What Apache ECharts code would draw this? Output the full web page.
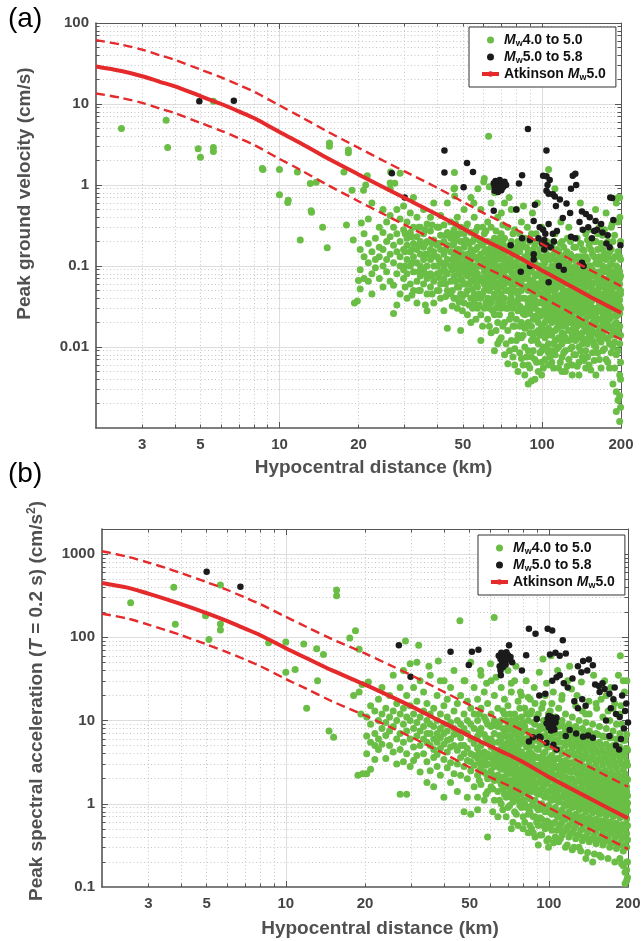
<!DOCTYPE html>
<html><head><meta charset="utf-8">
<script src="https://cdn.jsdelivr.net/npm/echarts@6/dist/echarts.min.js"></script>
<style>html,body{margin:0;padding:0;background:#fff}#c{width:643px;height:941px}</style>
</head><body><div id="c"></div><script>
const FONT = "'Liberation Sans', Arial, Helvetica, sans-serif";

// ---- tick values / labels ----
const distLabels = [3, 5, 10, 20, 50, 100, 200];
const distMajor = [10, 100];
const distMinor = [3, 4, 5, 6, 7, 8, 9, 20, 30, 40, 50, 60, 70, 80, 90];
const pgvLabels = [0.01, 0.1, 1, 10, 100];
const pgvMajor = [0.01, 0.1, 1, 10];
const pgvMinor = [0.002,0.003,0.004,0.005,0.006,0.007,0.008,0.009,0.02,0.03,0.04,0.05,0.06,0.07,0.08,0.09,0.2,0.3,0.4,0.5,0.6,0.7,0.8,0.9,2,3,4,5,6,7,8,9,20,30,40,50,60,70,80,90];
const psaLabels = [0.1, 1, 10, 100, 1000];
const psaMajor = [1, 10, 100, 1000];
const psaMinor = [0.2,0.3,0.4,0.5,0.6,0.7,0.8,0.9,2,3,4,5,6,7,8,9,20,30,40,50,60,70,80,90,200,300,400,500,600,700,800,900,2000];

// ---- series names ----
const nameSmall = 'Mw4.0 to 5.0';
const nameLarge = 'Mw5.0 to 5.8';
const nameModel = 'Atkinson Mw5.0';

// ---- Atkinson model curves ----
const curveDist = [2,2.5,3,3.5,4,5,6,7,8,10,12,15,20,25,30,40,50,60,70,80,100,120,150,200];
const pgvMedian = [29,25.5,22,18.8,16.5,12.5,10,8.1,6.7,4.5,3.3,2.2,1.35,0.93,0.69,0.43,0.29,0.21,0.165,0.132,0.088,0.064,0.043,0.0265];
const pgvUpper = [61.5,54,47,40,35,26.6,21.3,17.2,14.2,9.6,7,4.7,2.88,1.98,1.47,0.92,0.62,0.45,0.35,0.28,0.187,0.136,0.092,0.0565];
const pgvLower = [13.5,11.9,10.3,8.8,7.7,5.85,4.67,3.78,3.13,2.1,1.54,1.03,0.63,0.435,0.322,0.2,0.135,0.098,0.077,0.062,0.041,0.03,0.02,0.0124];
const psaMedian = [450,395,335,288,250,195,156,127,106,74,56,40,27,19.5,14.8,9.3,6.5,4.9,3.9,3.15,2.1,1.55,1.07,0.67];
const psaUpper = [1080,930,790,680,590,460,370,300,250,176,133,95,64,46,35,22,15.4,11.6,9.2,7.5,5,3.7,2.55,1.6];
const psaLower = [192,168,142,122,106,82,66,54,45,31.5,24,17,11.5,8.3,6.3,4,2.75,2.08,1.66,1.34,0.9,0.66,0.46,0.285];

// ---- (a) PGV observations ----
const pgvGreenPts = [[2.5,5.0],[3.7,6.3],[3.75,2.9],[4.9,2.8],[5.0,2.2],[5.6,2.9],[5.6,2.6],[5.6,10.8],[8.6,1.6],[8.65,1.55],[10,1.55],[10,0.76],[10.8,0.65],[10.75,0.61],[11.7,1.45],[12,0.21],[13.1,1.04],[13.8,1.08],[13.2,0.48],[13.25,0.46],[14.6,0.30],[15.2,0.168],[15.5,3.3],[15.5,3.0],[17.6,1.45],[18.0,0.32],[18.3,2.7],[18.3,2.5],[18.9,0.86],[19.1,0.21],[19.3,0.035],[19.8,0.037],[20,0.066],[20.5,0.34],[20.9,0.86],[21.3,1.0],[21.6,1.3],[21.8,0.065],[26.5,1.45],[27.5,1.05],[46.4,1.43],[46.5,0.92],[46.5,0.73],[28.8,1.4],[26.4,1.06],[57,0.9],[60,1.1],[63,0.95],[66,0.8],[75,0.7],[80,0.5],[85,0.55],[92,0.45],[106,1.55],[112,0.9],[140,0.6],[160,0.5],[195,0.7],[62.6,4.0],[55,0.6],[70,0.45],[96,0.6],[88,0.3],[95,0.25],[118,0.35],[125,0.22],[150,0.28],[170,0.24],[185,0.33],[198,0.4]];
const pgvGreenCols = [
[20.3,[0.16,0.09,0.052]],[21,[0.13,0.25,0.07]],[21.8,[0.19,0.11,0.38]],[22.5,[0.08,0.15,0.6,0.045]],
[23.2,[0.22,0.12,0.095]],[24,[0.17,0.3,0.07,0.13]],[24.8,[0.26,0.1,0.5,0.055,0.16]],[25.6,[0.2,0.085,0.35,0.12]],
[26.4,[0.14,0.42,0.065,0.23,0.9]],[27.2,[0.3,0.11,0.18,0.058,0.026]],[28,[0.15,0.5,0.08,0.25,0.033]],[28.8,[0.2,0.1,0.38,0.13,0.045]],
[29.7,[0.28,0.07,0.16,0.55,0.09]],[30.6,[0.12,0.22,0.04,0.35,0.08,0.18]],[31.5,[0.1,0.26,0.06,0.15,0.45]],[32.4,[0.19,0.085,0.3,0.05,0.13,0.7]],
[33.4,[0.11,0.23,0.065,0.16,0.4,0.035]],[34.4,[0.14,0.075,0.3,0.2,0.05,0.1]],[35.4,[0.25,0.12,0.06,0.17,0.5,0.09]],[36.5,[0.1,0.2,0.045,0.14,0.33,0.07,0.028]],
[37.6,[0.16,0.08,0.27,0.12,0.055,0.4]],[38.7,[0.21,0.1,0.065,0.15,0.035,0.6]],[39.9,[0.13,0.3,0.08,0.18,0.05,0.1]],[41.1,[0.24,0.11,0.06,0.16,0.42,0.04,0.085]],
[42.3,[0.14,0.07,0.2,0.095,0.32,0.028]],[43.6,[0.18,0.12,0.05,0.26,0.08,0.6,0.017]],[44.9,[0.1,0.15,0.065,0.35,0.22,0.045]],[46.2,[0.13,0.075,0.19,0.04,0.28,0.11,0.9]],
[47.6,[0.16,0.09,0.055,0.24,0.03,0.4,0.12]],[49,[0.2,0.07,0.13,0.045,0.1,0.3,0.016]],[50.5,[0.11,0.17,0.06,0.25,0.035,0.085,0.5]],[52,[0.14,0.075,0.2,0.05,0.1,0.33,0.025]],
[53.6,[0.09,0.16,0.04,0.12,0.065,0.26,0.7,0.02]],[55.2,[0.13,0.07,0.22,0.045,0.1,0.035,0.4]],[56.8,[0.08,0.17,0.055,0.12,0.03,0.3,0.065]],[58.5,[0.1,0.2,0.04,0.14,0.07,0.025,0.5,0.012]],
[60.3,[0.15,0.085,0.05,0.25,0.11,0.03,0.06,1.2]],[62.1,[0.07,0.13,0.04,0.2,0.09,0.022,0.35]],[64,[0.11,0.055,0.17,0.035,0.08,0.3,0.015,0.6]],[65.9,[0.09,0.045,0.14,0.025,0.065,0.22,0.12,0.009]],
[67.8,[0.06,0.12,0.035,0.19,0.08,0.02,0.4,0.05,0.011]],[69.9,[0.1,0.045,0.16,0.03,0.07,0.013,0.25,0.055]],[72,[0.075,0.14,0.04,0.22,0.02,0.1,0.06,0.008,0.6]],[74.1,[0.05,0.11,0.03,0.17,0.07,0.016,0.09,0.3,0.0062]],
[76.4,[0.085,0.04,0.13,0.025,0.06,0.2,0.012,0.045,0.5]],[78.7,[0.065,0.1,0.035,0.15,0.018,0.05,0.08,0.006,0.28,0.0095]],[81,[0.045,0.12,0.028,0.075,0.2,0.014,0.09,0.038,0.005]],[83.5,[0.06,0.03,0.1,0.17,0.02,0.05,0.013,0.08,0.35,0.0072]],
[86,[0.04,0.085,0.025,0.13,0.055,0.017,0.07,0.01,0.22,0.0045]],[88.6,[0.07,0.035,0.11,0.02,0.05,0.15,0.028,0.009,0.09,0.0035,0.006]],[91.2,[0.05,0.09,0.03,0.13,0.018,0.065,0.04,0.012,0.25,0.0038,0.0075]],[94,[0.038,0.075,0.024,0.11,0.055,0.015,0.03,0.007,0.18,0.004]],
[96.8,[0.06,0.028,0.1,0.045,0.016,0.08,0.02,0.035,0.011,0.14,0.005]],[99.7,[0.045,0.085,0.025,0.065,0.13,0.018,0.035,0.009,0.055,0.3,0.0045,0.0065]],[102.7,[0.032,0.07,0.02,0.05,0.11,0.013,0.04,0.026,0.085,0.007,0.16]],[105.8,[0.055,0.028,0.09,0.017,0.042,0.065,0.011,0.022,0.13,0.035,0.006,0.0085]],
[109,[0.04,0.075,0.02,0.03,0.1,0.014,0.055,0.009,0.025,0.18,0.0065]],[112.3,[0.05,0.024,0.085,0.035,0.016,0.065,0.012,0.045,0.12,0.008,0.028,0.25]],[115.7,[0.03,0.06,0.019,0.042,0.095,0.013,0.075,0.022,0.035,0.01,0.15,0.0055]],[119.2,[0.045,0.022,0.07,0.032,0.015,0.055,0.11,0.011,0.026,0.085,0.0075,0.2,0.005]],
[122.8,[0.036,0.06,0.018,0.028,0.09,0.013,0.048,0.024,0.075,0.009,0.14,0.005]],[126.5,[0.05,0.026,0.08,0.04,0.016,0.065,0.012,0.032,0.11,0.02,0.007,0.3]],[130.3,[0.03,0.055,0.02,0.042,0.085,0.014,0.07,0.025,0.01,0.13,0.036,0.006,0.0045]],[134.2,[0.045,0.022,0.065,0.033,0.1,0.016,0.05,0.012,0.028,0.08,0.008,0.17]],
[138.3,[0.038,0.06,0.019,0.028,0.09,0.013,0.045,0.072,0.024,0.01,0.12,0.0045,0.0065]],[142.5,[0.05,0.026,0.075,0.035,0.015,0.06,0.11,0.02,0.042,0.0075,0.16,0.011]],[146.8,[0.032,0.055,0.022,0.085,0.042,0.016,0.068,0.012,0.027,0.13,0.009,0.25,0.0055]],[151.2,[0.045,0.028,0.07,0.019,0.036,0.1,0.014,0.055,0.024,0.08,0.006,0.18]],
[155.8,[0.038,0.06,0.024,0.09,0.016,0.048,0.03,0.012,0.075,0.14,0.0085,0.02]],[160.5,[0.05,0.03,0.075,0.02,0.04,0.11,0.015,0.062,0.026,0.01,0.2,0.0045]],[165.4,[0.035,0.055,0.022,0.085,0.045,0.017,0.068,0.028,0.012,0.13,0.038,0.3,0.007]],[170.4,[0.045,0.026,0.07,0.032,0.1,0.019,0.055,0.014,0.04,0.16,0.009,0.022]],
[175.5,[0.03,0.06,0.042,0.02,0.085,0.026,0.05,0.013,0.12,0.035,0.007,0.45]],[180.8,[0.05,0.028,0.075,0.038,0.018,0.062,0.1,0.022,0.011,0.15,0.044,0.0055]],[186.3,[0.034,0.055,0.024,0.085,0.045,0.016,0.07,0.03,0.12,0.01,0.2,0.0035]],[191.9,[0.045,0.028,0.065,0.036,0.02,0.1,0.055,0.014,0.024,0.0028,0.0016,0.6,0.008]],
[197.7,[0.038,0.06,0.026,0.085,0.045,0.018,0.032,0.13,0.011,0.07,0.0025,0.0012,0.7,0.0045]]
];
const pgvGreenCols2 = [
[30.1,[0.15,0.055,0.25,0.1]],[31.95,[0.11,0.23,0.044,0.16]],
[33.9,[0.18,0.085,0.05,0.3]],[35.95,[0.19,0.08,0.033,0.14,0.28]],
[38.15,[0.19,0.045,0.13,0.075,0.32]],[40.5,[0.19,0.072,0.12,0.3,0.05]],
[42.95,[0.16,0.085,0.24,0.06,0.11,0.042]],[45.55,[0.18,0.09,0.05,0.12,0.25,0.032]],[46.9,[0.14,0.065,0.21,0.1,0.04,0.33]],
[48.3,[0.11,0.25,0.08,0.055,0.16,0.036]],[49.75,[0.14,0.09,0.042,0.2,0.065,0.028]],[51.25,[0.13,0.08,0.21,0.045,0.3,0.06]],[52.8,[0.11,0.19,0.06,0.033,0.14,0.085]],
[54.4,[0.2,0.1,0.052,0.15,0.03,0.08]],[56,[0.1,0.16,0.06,0.27,0.04,0.085,0.022]],[57.65,[0.13,0.065,0.21,0.045,0.1,0.033]],[59.4,[0.12,0.07,0.18,0.045,0.3,0.018]],
[61.2,[0.1,0.16,0.055,0.035,0.27,0.075]],[63.05,[0.15,0.09,0.05,0.12,0.03,0.065,0.018]],[64.95,[0.07,0.2,0.1,0.04,0.13,0.028]],[66.85,[0.1,0.16,0.055,0.03,0.075,0.27,0.016]],
[68.85,[0.085,0.14,0.04,0.22,0.06,0.025,0.012]],[70.95,[0.12,0.06,0.19,0.035,0.085,0.018,0.32]],[73.05,[0.09,0.05,0.16,0.03,0.12,0.065,0.011]],[75.25,[0.065,0.12,0.035,0.18,0.05,0.022,0.095,0.009]],
[77.55,[0.11,0.052,0.16,0.03,0.075,0.018,0.25,0.0075]],[79.85,[0.08,0.035,0.14,0.06,0.022,0.1,0.012,0.17]],[82.25,[0.1,0.05,0.15,0.032,0.065,0.018,0.25,0.0085]],[84.75,[0.075,0.12,0.04,0.2,0.026,0.095,0.014,0.006]],
[87.3,[0.1,0.055,0.17,0.03,0.075,0.018,0.13,0.0075]],[89.9,[0.06,0.12,0.04,0.2,0.026,0.085,0.015,0.0055]],[92.6,[0.1,0.045,0.16,0.065,0.022,0.035,0.013,0.009]],[95.4,[0.08,0.13,0.05,0.035,0.2,0.022,0.012,0.0065]],
[98.25,[0.1,0.036,0.16,0.055,0.075,0.024,0.014,0.0085]],[101.2,[0.06,0.12,0.042,0.19,0.028,0.095,0.016,0.01,0.0055]],[104.25,[0.08,0.045,0.14,0.034,0.06,0.022,0.2,0.0095,0.014]],[107.4,[0.065,0.12,0.036,0.05,0.17,0.026,0.08,0.016,0.0075]],
[110.65,[0.09,0.04,0.14,0.06,0.021,0.032,0.011,0.2,0.0055]],[114,[0.07,0.11,0.04,0.16,0.028,0.055,0.017,0.0095,0.085]],[117.45,[0.055,0.085,0.13,0.038,0.026,0.19,0.018,0.0125,0.0065]],[121,[0.08,0.05,0.12,0.038,0.17,0.02,0.065,0.0145,0.0085]],
[124.65,[0.065,0.1,0.042,0.15,0.03,0.022,0.085,0.012,0.0058]],[128.4,[0.06,0.095,0.035,0.14,0.045,0.022,0.2,0.0095,0.016]],[132.25,[0.075,0.04,0.12,0.055,0.028,0.018,0.17,0.0125,0.008]],[136.25,[0.055,0.085,0.034,0.13,0.042,0.018,0.22,0.0145,0.0058]],
[140.4,[0.085,0.045,0.13,0.03,0.065,0.02,0.19,0.009,0.0135]],[144.65,[0.065,0.1,0.038,0.155,0.05,0.018,0.028,0.0125,0.0068]],[149,[0.08,0.04,0.12,0.058,0.03,0.21,0.016,0.011,0.0075]],[153.5,[0.055,0.1,0.035,0.16,0.042,0.018,0.075,0.0135,0.0052]],
[158.15,[0.085,0.045,0.13,0.062,0.028,0.2,0.019,0.0105,0.0068]],[162.95,[0.065,0.105,0.04,0.16,0.048,0.022,0.014,0.25,0.0085]],[167.9,[0.08,0.036,0.12,0.058,0.028,0.19,0.016,0.0115,0.0055]],[172.95,[0.055,0.095,0.038,0.14,0.068,0.022,0.016,0.0095,0.28]],
[178.15,[0.085,0.04,0.13,0.055,0.032,0.2,0.017,0.0125,0.0065]],[183.55,[0.065,0.105,0.042,0.16,0.05,0.024,0.014,0.0085,0.3]],[189.1,[0.08,0.038,0.13,0.06,0.03,0.019,0.0115,0.24,0.0055]],[194.8,[0.055,0.095,0.04,0.15,0.07,0.025,0.016,0.009,0.35,0.0022]],
[199.2,[0.075,0.045,0.12,0.05,0.03,0.2,0.014,0.0065,0.004,0.0018]]
];
const pgvBlack = [[4.95,10.8],[6.7,11],[26.8,1.4],[30,0.7],[42.5,2.67],[42.5,1.43],[50.3,0.94],[51.8,1.87],[54.6,1.45],
[65.5,1.05],[66,0.95],[66.5,1.12],[67,0.88],[67.5,1.0],[68,1.08],[68.5,0.92],[69,1.15],[69.5,0.98],[70,0.86],[70.5,1.04],[71,0.94],[72,1.1],[73,1.0],[66,0.85],[68,0.82],
[65.5,0.48],[79.8,0.5],[81.7,1.04],[84,1.32],[88.4,4.9],[94,0.57],[104,2.67],[101,1.3],[104,1.28],[107,1.15],[105,1.0],[104,0.85],[106,0.78],[110,0.77],[112,0.72],[117,0.66],[124,0.59],[131,1.3],[134,1.38],[135,1.0],[129,0.9],[113,0.55],
[93,0.36],[98,0.3],[101,0.28],[103,0.25],[102,0.21],[104,0.18],[108,0.17],[111,0.2],[102,0.16],[110,0.25],[114,0.27],[97,0.22],[106,0.33],[100,0.19],
[84,0.22],[90,0.21],[93,0.14],[76,0.18],[83,0.085],[90,0.1],[93,0.12],[106,0.063],[116,0.1],[121,0.09],
[129,0.23],[134,0.22],[142,0.47],[147,0.44],[152,0.4],[139,0.35],[143,0.28],[150,0.3],[158,0.27],[162,0.28],[170,0.26],[178,0.24],[176,0.19],[181,0.17],[187,0.37],[185,0.69],[182,0.7],[199,0.18],[142,0.11],[144,0.1],[120,0.39],[128,0.45],[160,0.36],[168,0.33],[155,0.22]];

// ---- (b) PSA(0.2 s) observations ----
const psaGreenPts = [[2.57,260],[3.75,400],[3.8,143],[4.95,182],[5.1,94],[5.64,424],[5.64,144],[5.64,122],[8.6,86],[10,88],[10,38],[10.85,41],[11.7,83],[12,14],[13.1,73],[13.2,30],[13.9,62],[14.6,7.5],[15.2,6.3],[15.6,370],[15.6,315],[17.5,98],[18.4,120],[19,72],[19,22],[19.5,27],[19.3,12],[19.6,2.3],[18.8,2.2],[18.1,20],[20.6,29],
[48,30],[55,40],[58,28],[60,48],[63,33],[72,28],[75,45],[78,22],[82,30],[85,18],[88,25],[92,38],[95,16],[98,28],[104,22],[108,40],[112,18],[118,30],[122,24],[128,20],[133,29],[138,12],[142,17],[148,35],[152,14],[158,18],[163,30],[168,13],[172,25],[178,16],[184,35],[188,15],[194,22],[198,30],[187,60],[45.9,158],[62,173],[102,60],[95,55],[120,45],[85,12],[195,0.11],[40,30],[35,45],[32,80],[28.5,90],[38,52]];
const psaGreenCols = [
[20.3,[6.5,2.3,11,4]],[21,[9,5.5,15,2.6]],[21.8,[7,13,3.4,5]],[22.5,[10,6,18,4.5]],
[23.2,[12,8,5.2,25]],[24,[9.5,6.6,14,3.5]],[24.8,[11,7.5,20,5]],[25.6,[8.5,13,4.2,35]],
[26.4,[6,10,16,3]],[27.2,[12,7,4.5,25,1.3]],[28,[9,5.5,14,3.2,40]],[28.8,[7.5,11,4,20,1.3]],
[29.7,[10,6,15,2.8,48]],[30.6,[8,12,4.8,25,3.3]],[31.5,[6.5,9.5,17,3.8,50]],[32.4,[11,5,7.5,30,2.4]],
[33.4,[8.5,13,4,6,22]],[34.4,[7,10,3.2,16,5.5,1.8]],[35.4,[9,5,12,2.5,35,7]],[36.5,[6,8.5,14,3.6,4.5,1.6]],
[37.6,[10,5.5,7,20,2.8,3.9]],[38.7,[8,4.6,12,6.2,30,2.2]],[39.9,[5.2,9,3.4,15,7,1.2]],[41.1,[7.5,4.2,11,2.7,18,5.8]],
[42.3,[6,9.5,3.1,25,4.8,1.8]],[43.6,[8,5,13,2.3,6.8,40]],[44.9,[4.4,7,10,3,16,1.4]],[46.2,[6.2,3.6,9,2.2,20,5]],
[47.6,[5,8,2.8,12,4,0.8,30]],[49,[7,3.3,10,4.6,2,17,1.2]],[50.5,[4,6,2.5,9,14,3.2,0.75,50]],[52,[5.3,8,2.9,3.8,12,1.6,25]],
[53.6,[3.5,6.5,2.2,10,4.6,1.2,18,0.85]],[55.2,[5,2.8,8,3.8,1.7,14,35]],[56.8,[4.2,6.8,2.4,11,3.2,1.1,22]],[58.5,[3,5.5,9,2,4,16,1.4,0.4]],
[60.3,[6,3.6,2.5,12,4.8,1.6,8.5,30]],[62.1,[4.4,2.8,7,1.9,10,3.4,20,1.1]],[64,[5.5,3,8.5,2.2,4,14,1.4,0.7]],[65.9,[3.8,6,2.6,1.7,10,4.6,25,1]],
[67.8,[4.8,2.9,7.5,2,3.5,12,1.3,18]],[69.9,[3.2,5.5,2.3,8.5,1.6,4.2,0.9,15,40]],[72,[4,2.6,6.5,1.8,3.1,10,1.2,22,0.5]],[74.1,[2.9,5,2,7.5,3.8,1.4,12,0.8,30]],
[76.4,[3.5,2.2,6,1.6,4.5,9,1.1,17,0.55]],[78.7,[2.6,4.2,1.8,7,3.2,1.3,11,0.9,20]],[81,[3.6,2.1,5.5,1.5,2.8,8.5,1,14,0.6]],[83.5,[2.4,4,1.7,6.2,3,1.2,10,0.75,19,0.45]],
[86,[3.2,1.9,5,2.5,1.4,7.5,4,0.95,13,0.5]],[88.6,[2.2,3.6,1.6,5.8,2.8,1.1,9,0.7,16,0.4]],[91.2,[2.9,1.8,4.5,2.3,1.3,7,3.6,0.85,12,0.55,0.32]],[94,[2,3.3,1.5,5.2,2.6,1,8,0.65,14,0.42]],
[96.8,[2.7,1.7,4.2,2.1,1.2,6.5,3.4,0.8,10,0.5,20]],[99.7,[1.9,3,1.4,4.8,2.4,0.95,7.5,0.6,12,0.38,0.3]],[102.7,[2.5,1.6,3.8,1.1,2,6,0.75,3,9,0.48,16]],[105.8,[1.8,2.8,1.3,4.4,0.9,2.2,7,0.6,11,0.4,1.5]],
[109,[2.3,1.5,3.5,1.05,5.5,0.7,2.8,8.5,0.5,14,1.8,0.35]],[112.3,[1.7,2.6,1.2,4,0.85,2,6.5,0.6,3.2,10,0.42,20]],[115.7,[2.1,1.4,3.3,0.95,5,1.7,0.65,7.5,2.6,0.48,12,0.3]],[119.2,[1.6,2.5,1.1,3.8,0.8,1.9,6,0.55,3,9,0.4,1.3]],
[122.8,[2,1.3,3.1,0.9,4.6,1.6,7,0.62,2.5,11,0.45,0.28]],[126.5,[1.5,2.4,1.05,3.6,0.75,5.5,1.8,0.55,2.9,8.5,0.38,15]],[130.3,[1.9,1.2,2.9,0.85,4.3,1.5,6.5,0.6,2.3,10,0.42,0.3]],[134.2,[1.4,2.2,1,3.4,0.7,5,1.7,0.5,2.7,8,0.36,13]],
[138.3,[1.8,1.15,2.7,0.8,4,1.4,6,0.58,2.2,9.5,0.4,0.22]],[142.5,[1.35,2.1,0.95,3.2,0.68,4.8,1.6,0.5,2.6,7.5,0.35,12]],[146.8,[1.7,1.1,2.5,0.78,3.8,1.3,5.8,0.55,2,9,0.38,0.2]],[151.2,[1.3,2,0.9,3,0.65,4.5,1.5,0.47,2.4,7,0.33,16]],
[155.8,[1.6,1.05,2.4,0.75,3.6,1.25,5.5,0.52,1.9,8.5,0.37,0.24]],[160.5,[1.25,1.9,0.88,2.9,0.62,4.3,1.45,0.45,2.3,6.5,0.32,11]],[165.4,[1.55,1,2.3,0.72,3.5,1.2,5.2,0.5,1.8,8,0.36,20]],[170.4,[1.2,1.85,0.85,2.8,0.6,4.2,1.4,0.44,2.2,6.2,0.3,10]],
[175.5,[1.5,0.98,2.2,0.7,3.4,1.15,5,0.48,1.75,7.5,0.34,14]],[180.8,[1.15,1.8,0.82,2.7,0.58,4,1.35,0.42,2.1,6,0.29,9]],[186.3,[1.45,0.95,2.1,0.68,3.3,1.1,4.8,0.46,1.7,7,0.32,12,0.22]],[191.9,[1.1,1.7,0.8,2.6,0.56,3.9,1.3,0.4,2,5.8,0.27,30,0.18]],
[197.7,[1.4,0.92,2,0.66,3.2,1.05,4.6,0.44,1.6,6.8,0.3,0.2,0.12,0.16]]
];
const psaGreenCols2 = [
[54.4,[4.1,7.4,2.5,3.2,12,1.9]],[57.65,[3.6,6.2,2.3,10,2.9,1.3]],
[61.2,[3.8,5.4,2.2,8.8,3,1.5,0.8]],[64.95,[4.2,2.7,6.6,1.9,3.4,9.5,1.1]],[66.85,[3.3,5.2,2.1,8,1.5,2.8,13,0.85]],
[68.85,[4.2,2.5,6.5,1.8,3.6,1.2,10,0.7]],[70.95,[3,5,1.9,7.8,2.7,1.4,12,0.95]],[73.05,[3.6,2.3,5.6,1.6,4.4,8.8,1.05,0.6]],[75.25,[2.6,4.5,1.8,6.8,3,1.2,10.5,0.75]],
[77.55,[3.2,2.1,5.2,1.4,3.9,8,0.95,14]],[79.85,[2.4,3.8,1.6,6,2.8,1.1,9.5,0.7,0.5]],[82.25,[3,1.9,4.8,1.35,3.5,7.5,0.9,12]],[84.75,[2.7,1.6,4.2,2.1,1.15,6.8,3.3,0.8,0.55]],
[87.3,[2.5,1.5,3.8,1.9,1.05,6,3,0.7,9.5,0.45]],[89.9,[2.8,1.75,4.6,1.35,2.3,7.2,0.9,0.6,11]],[92.6,[2.2,3.6,1.45,5.4,1.9,0.95,8.5,0.68,0.42]],[95.4,[2.5,1.6,4,1.25,3.1,6.5,0.85,0.55,10]],
[98.25,[2.1,3.3,1.35,5,1.75,0.88,7.8,0.62,0.36]],[101.2,[2.3,1.45,3.6,1.15,2.9,6.2,0.78,0.52,13]],[104.25,[1.95,3.2,1.25,4.8,1.6,0.85,7.2,0.58,0.34]],[107.4,[2.2,1.4,3.5,1.1,2.7,5.8,0.72,0.48,9.5]],
[110.65,[1.8,2.9,1.2,4.5,1.5,0.8,6.8,0.55,0.38]],[114,[2.1,1.35,3.2,1,2.5,5.4,0.7,0.46,8.5]],[117.45,[1.7,2.8,1.15,4.2,1.45,0.75,6.4,0.52,0.32]],[121,[2,1.3,3.1,0.95,2.4,5.2,0.68,0.44,8]],
[124.65,[1.65,2.6,1.1,4,1.4,0.72,6.2,0.5,0.3]],[128.4,[1.9,1.25,3,0.92,2.3,4.9,0.64,0.42,7.8]],[132.25,[1.55,2.5,1.05,3.8,1.3,0.7,5.8,0.48,0.27]],[136.25,[1.85,1.2,2.8,0.88,2.2,4.6,0.6,0.4,7.2]],
[140.4,[1.5,2.4,1,3.6,1.25,0.66,5.5,0.45,0.26]],[144.65,[1.75,1.15,2.7,0.84,2.1,4.4,0.58,0.38,7]],[149,[1.45,2.3,0.96,3.4,1.2,0.64,5.2,0.43,0.25]],[153.5,[1.7,1.1,2.6,0.8,2,4.2,0.56,0.37,6.8]],
[158.15,[1.4,2.2,0.92,3.3,1.15,0.62,5,0.41,0.23]],[162.95,[1.65,1.05,2.5,0.78,1.95,4,0.54,0.35,6.4]],[167.9,[1.35,2.1,0.9,3.2,1.1,0.6,4.8,0.4,0.22]],[172.95,[1.6,1.02,2.4,0.76,1.9,3.9,0.52,0.34,6.2]],
[178.15,[1.3,2.05,0.87,3.1,1.08,0.58,4.6,0.39,0.2]],[183.55,[1.55,1,2.35,0.74,1.85,3.8,0.5,0.33,6]],[189.1,[1.28,2,0.85,3,1.05,0.56,4.5,0.38,0.19,9]],[194.8,[1.5,0.98,2.3,0.72,1.8,3.7,0.49,0.32,5.8,0.15]],
[199.2,[1.25,1.95,0.83,2.9,1.02,0.55,4.4,0.37,0.2,0.13]]
];
const psaBlack = [[5,614],[6.72,405],[26.9,80],[29.8,33.5],[42.3,67],[49.6,46.5],[51,67],[54,71],
[64.5,60],[65.5,55],[66,65],[66.5,50],[67,58],[67.5,63],[68,52],[68.5,47],[69,57],[70,61],[70.5,54],[71.5,58],[72.5,50],[65,45],[67,44],[69,66],
[65.7,35],[65.5,40],[70.6,80],[79,40],[82,61],[84,127],[89,110],[99,127],[103,121],[113,92],
[101,62],[106,65],[110,60],[116,64],[92,20],[97,21],[103,30],[107,33],[110,35],[114,28],[118,25],[123,32],
[129,45],[135,52],[142,54],[147,46],[140,40],[133,38],[150,27],[155,26],[160,28],[125,17],[129,14],[134,18],[138,15],
[98,9.2],[99,10.5],[100,8.3],[101,9.8],[102,11],[103,8.8],[104,10.2],[105,7.8],[106,9.5],[107,10.8],[100,11.3],[102,7.6],[104,8.2],[101,8.7],
[90,10.4],[92,6.4],[93,6.2],[84,5.6],[87,6.3],[98,5.4],[104,5.1],[107,4.5],[116,6.5],[120,7.7],[127,7],[135,6.4],[141,6.6],[147,6.2],
[156,22],[163,24],[170,21],[176,18],[172,14],[180,12],[186,11],[193,8],[188,6],[180,5],[170,6.5],[165,10],[195,13],[200,9.5],[178,25],[190,20],[185,4.5],[197,16]];

// ---- build ----
const expand = cols => cols.flatMap(([d, ys]) => ys.map(v => [d, v]));
const pgvGreen = pgvGreenPts.concat(expand(pgvGreenCols), expand(pgvGreenCols2));
const psaGreen = psaGreenPts.concat(expand(psaGreenCols), expand(psaGreenCols2));
const pairs = vals => curveDist.map((d, i) => [d, vals[i]]);

const AX = '#555555';
const TXT = '#444444';
const tickFmt = v => String(+(+v).toPrecision(6));

function xAxes(g, nameGap) {
  const base = {type: 'log', logBase: 10, gridIndex: g, min: 2, max: 200};
  return [
    Object.assign({}, base, {position: 'bottom', name: 'Hypocentral distance (km)', nameLocation: 'middle', nameGap: nameGap,
      nameTextStyle: {fontFamily: FONT, fontSize: 19, fontWeight: 'bold', color: '#505050', padding: [0, 0, 0, 30]},
      axisLine: {show: true, onZero: false, lineStyle: {color: AX, width: 1.6}},
      axisTick: {show: true, inside: true, length: 6, customValues: distMajor, lineStyle: {color: AX, width: 1}},
      axisLabel: {show: true, customValues: distLabels, margin: 9, formatter: tickFmt, color: TXT, fontFamily: FONT, fontSize: 15, fontWeight: 'bold'},
      splitLine: {show: true, lineStyle: {color: '#dddddd', width: 1, type: 'solid'}}}),
    Object.assign({}, base, {position: 'bottom', axisLine: {show: false},
      axisTick: {show: true, inside: true, length: 3.5, customValues: distMinor, lineStyle: {color: AX, width: 1}},
      axisLabel: {show: false}, splitLine: {show: true, lineStyle: {color: '#c6c6c6', width: 1, type: [1, 2.5]}}}),
    Object.assign({}, base, {position: 'top', axisLine: {show: true, onZero: false, lineStyle: {color: AX, width: 1}},
      axisTick: {show: true, inside: true, length: 6, customValues: distMajor, lineStyle: {color: AX, width: 1}},
      axisLabel: {show: false}, splitLine: {show: false}}),
    Object.assign({}, base, {position: 'top', axisLine: {show: false},
      axisTick: {show: true, inside: true, length: 3.5, customValues: distMinor, lineStyle: {color: AX, width: 1}},
      axisLabel: {show: false}, splitLine: {show: false}})
  ];
}
function yAxes(g, min, max, labels, major, minor, name, nameGap, namePad, rich) {
  const base = {type: 'log', logBase: 10, gridIndex: g, min: min, max: max};
  const nts = {fontFamily: FONT, fontSize: 19, fontWeight: 'bold', color: '#505050', padding: [0, 0, 0, namePad]};
  if (rich) nts.rich = rich;
  return [
    Object.assign({}, base, {position: 'left', name: name, nameLocation: 'middle', nameGap: nameGap, nameRotate: 90,
      nameTextStyle: nts,
      axisLine: {show: true, onZero: false, lineStyle: {color: AX, width: 1.6}},
      axisTick: {show: true, inside: true, length: 6, customValues: major, lineStyle: {color: AX, width: 1}},
      axisLabel: {show: true, customValues: labels, margin: 7, formatter: tickFmt, color: TXT, fontFamily: FONT, fontSize: 15, fontWeight: 'bold'},
      splitLine: {show: true, lineStyle: {color: '#dddddd', width: 1, type: 'solid'}}}),
    Object.assign({}, base, {position: 'left', axisLine: {show: false},
      axisTick: {show: true, inside: true, length: 3.5, customValues: minor, lineStyle: {color: AX, width: 1}},
      axisLabel: {show: false}, splitLine: {show: true, lineStyle: {color: '#c6c6c6', width: 1, type: [1, 2.5]}}}),
    Object.assign({}, base, {position: 'right', axisLine: {show: true, onZero: false, lineStyle: {color: AX, width: 1}},
      axisTick: {show: true, inside: true, length: 6, customValues: major, lineStyle: {color: AX, width: 1}},
      axisLabel: {show: false}, splitLine: {show: false}}),
    Object.assign({}, base, {position: 'right', axisLine: {show: false},
      axisTick: {show: true, inside: true, length: 3.5, customValues: minor, lineStyle: {color: AX, width: 1}},
      axisLabel: {show: false}, splitLine: {show: false}})
  ];
}

const psaRich = {
  n: {fontFamily: FONT, fontSize: 19, fontWeight: 'bold', color: '#505050', lineHeight: 22},
  i: {fontFamily: FONT, fontSize: 19, fontWeight: 'bold', fontStyle: 'italic', color: '#505050', lineHeight: 22},
  sup: {fontFamily: FONT, fontSize: 12, fontWeight: 'bold', color: '#505050', lineHeight: 12, verticalAlign: 'top'}
};
const psaTitle = '{n|Peak spectral acceleration (}{i|T}{n| = 0.2 s) (cm/s}{sup|2}{n|)}';

const legendText = {};
legendText[nameSmall] = '{i|M}{s|w}{n|4.0 to 5.0}';
legendText[nameLarge] = '{i|M}{s|w}{n|5.0 to 5.8}';
legendText[nameModel] = '{n|Atkinson }{i|M}{s|w}{n|5.0}';
const legendRich = {
  n: {fontFamily: FONT, fontSize: 14, fontWeight: 'bold', color: '#111', lineHeight: 16},
  i: {fontFamily: FONT, fontSize: 14, fontWeight: 'bold', fontStyle: 'italic', color: '#111', lineHeight: 16},
  s: {fontFamily: FONT, fontSize: 9, fontWeight: 'bold', color: '#111', lineHeight: 8, verticalAlign: 'bottom'}
};
function legend(left, top) {
  return {left: left, top: top, orient: 'vertical', selectedMode: false,
    data: [{name: nameSmall, icon: 'circle'}, {name: nameLarge, icon: 'circle'}, {name: nameModel}],
    itemWidth: 17, itemHeight: 7, itemGap: 2, padding: [6, 10, 5, 11],
    borderColor: '#333', borderWidth: 1, borderRadius: 0, backgroundColor: '#fff',
    lineStyle: {width: 4},
    formatter: n => legendText[n],
    textStyle: {fontFamily: FONT, fontSize: 14, fontWeight: 'bold', color: '#111', rich: legendRich}};
}

function scatter(name, data, color, size, xi, yi, z) {
  return {type: 'scatter', name: name, data: data, xAxisIndex: xi, yAxisIndex: yi, symbol: 'circle', symbolSize: size,
    itemStyle: {color: color, opacity: 1}, z: z, silent: true};
}
function curve(name, vals, dashed, xi, yi) {
  return {type: 'line', name: name, data: pairs(vals), xAxisIndex: xi, yAxisIndex: yi, smooth: 0.3, symbol: 'none', showSymbol: false,
    lineStyle: {color: '#e52a2c', width: dashed ? 2.4 : 4, type: dashed ? [9, 5] : 'solid'}, itemStyle: {color: '#e52a2c'}, z: 5, silent: true};
}

const GREEN = '#6abe45', BLACK = '#1b1b1b';

const option = {
  animation: false,
  backgroundColor: '#ffffff',
  graphic: [
    {type: 'text', left: 8, top: 5, style: {text: '(a)', font: "28px 'Liberation Sans', Arial, sans-serif", fill: '#000'}},
    {type: 'text', left: 8, top: 460, style: {text: '(b)', font: "28px 'Liberation Sans', Arial, sans-serif", fill: '#000'}}
  ],
  grid: [
    {left: 96, top: 23, width: 525, height: 405, containLabel: false, outerBoundsMode: 'none'},
    {left: 102, top: 529, width: 526, height: 358, containLabel: false, outerBoundsMode: 'none'}
  ],
  xAxis: xAxes(0, 30).concat(xAxes(1, 32)),
  yAxis: yAxes(0, 0.001, 100, pgvLabels, pgvMajor, pgvMinor, 'Peak ground velocity (cm/s)', 62, 64, null)
    .concat(yAxes(1, 0.1, 2000, psaLabels, psaMajor, psaMinor, psaTitle, 54, 14, psaRich)),
  legend: [legend(469, 27), legend(478, 535)],
  series: [
    scatter(nameSmall, pgvGreen, GREEN, 7, 0, 0, 2),
    scatter(nameLarge, pgvBlack, BLACK, 6.5, 0, 0, 3),
    curve(nameModel, pgvMedian, false, 0, 0),
    curve('Atkinson upper', pgvUpper, true, 0, 0),
    curve('Atkinson lower', pgvLower, true, 0, 0),
    scatter(nameSmall, psaGreen, GREEN, 7, 4, 4, 2),
    scatter(nameLarge, psaBlack, BLACK, 6.5, 4, 4, 3),
    curve(nameModel, psaMedian, false, 4, 4),
    curve('Atkinson upper', psaUpper, true, 4, 4),
    curve('Atkinson lower', psaLower, true, 4, 4)
  ]
};
const chart = echarts.init(document.getElementById('c'), null, {renderer: 'canvas'});
chart.setOption(option);
</script></body></html>
